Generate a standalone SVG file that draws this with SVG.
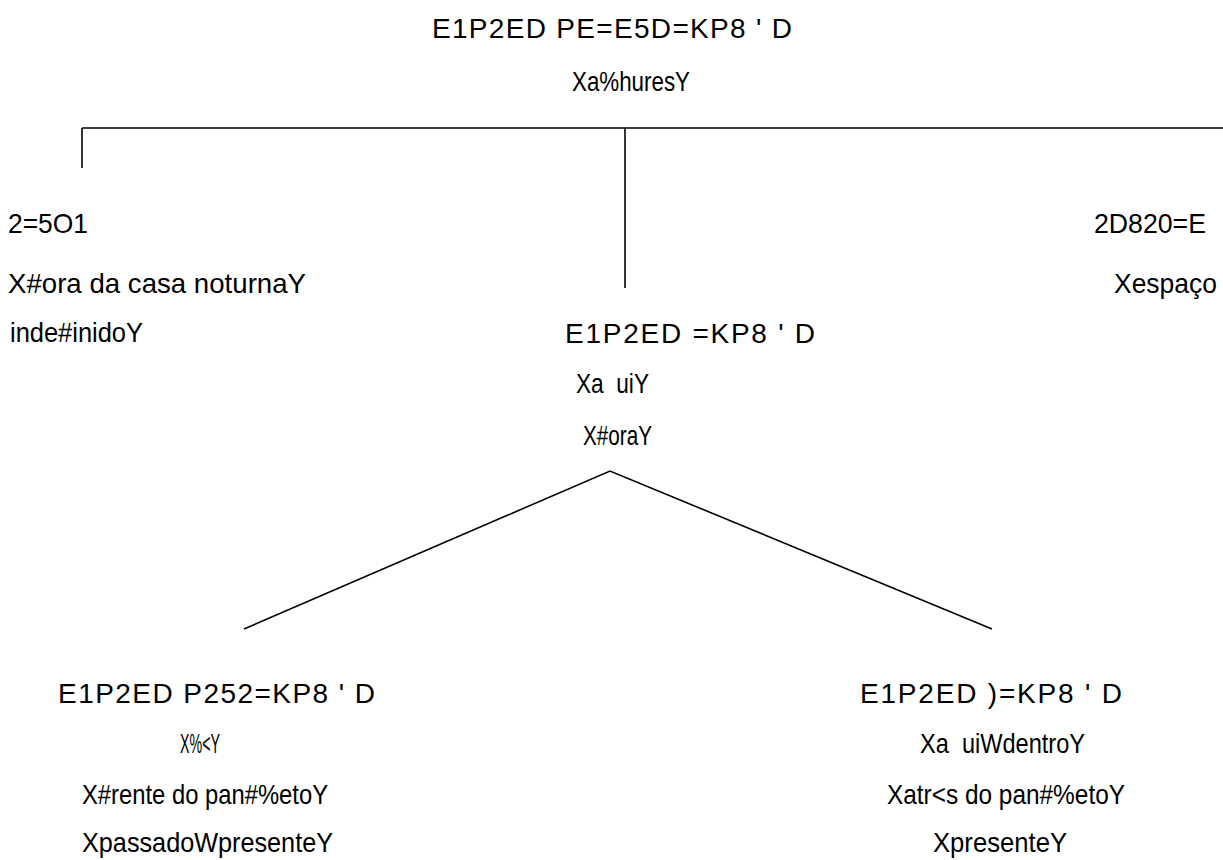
<svg xmlns="http://www.w3.org/2000/svg" width="1223" height="860" viewBox="0 0 1223 860">
<style>
text{font-family:"Liberation Sans",Arial,sans-serif;font-size:28px;fill:#000;white-space:pre}
.c line,.c polyline{stroke:#000;stroke-width:1.6;fill:none}
</style>
<rect width="1223" height="860" fill="#fff"/>
<g id="connectors" class="c">
<line x1="82" y1="128" x2="1223" y2="128"/>
<line x1="82" y1="128" x2="82" y2="168"/>
<line x1="625" y1="128" x2="625" y2="288"/>
<polyline points="244,629 610,471 992,629"/>
</g>
<g id="node-root">
<text x="432" y="38" textLength="360" lengthAdjust="spacing">E1P2ED PE=E5D=KP8 ' D</text>
<text x="572" y="91" textLength="118" lengthAdjust="spacingAndGlyphs">Xa%huresY</text>
</g>
<g id="node-left">
<text x="8" y="233" textLength="80" lengthAdjust="spacingAndGlyphs">2=5O1</text>
<text x="8" y="293" textLength="298" lengthAdjust="spacingAndGlyphs">X#ora da casa noturnaY</text>
<text x="10" y="342" textLength="133" lengthAdjust="spacingAndGlyphs">inde#inidoY</text>
</g>
<g id="node-right">
<text x="1094" y="233" textLength="112" lengthAdjust="spacingAndGlyphs">2D820=E</text>
<text x="1114" y="293" textLength="103" lengthAdjust="spacingAndGlyphs">Xespaço</text>
</g>
<g id="node-middle">
<text x="565" y="343" textLength="250" lengthAdjust="spacing">E1P2ED =KP8 ' D</text>
<text x="576" y="393" textLength="73" lengthAdjust="spacingAndGlyphs">Xa  uiY</text>
<text x="583" y="445" textLength="69" lengthAdjust="spacingAndGlyphs">X#oraY</text>
</g>
<g id="node-bottom-left">
<text x="58" y="703" textLength="317" lengthAdjust="spacing">E1P2ED P252=KP8 ' D</text>
<text x="180" y="753" textLength="40" lengthAdjust="spacingAndGlyphs">X%&lt;Y</text>
<text x="82" y="804" textLength="246" lengthAdjust="spacingAndGlyphs">X#rente do pan#%etoY</text>
<text x="82" y="852" textLength="251" lengthAdjust="spacingAndGlyphs">XpassadoWpresenteY</text>
</g>
<g id="node-bottom-right">
<text x="860" y="703" textLength="262" lengthAdjust="spacing">E1P2ED )=KP8 ' D</text>
<text x="920" y="753" textLength="165" lengthAdjust="spacingAndGlyphs">Xa  uiWdentroY</text>
<text x="887" y="804" textLength="238" lengthAdjust="spacingAndGlyphs">Xatr&lt;s do pan#%etoY</text>
<text x="933" y="852" textLength="134" lengthAdjust="spacingAndGlyphs">XpresenteY</text>
</g>
</svg>
